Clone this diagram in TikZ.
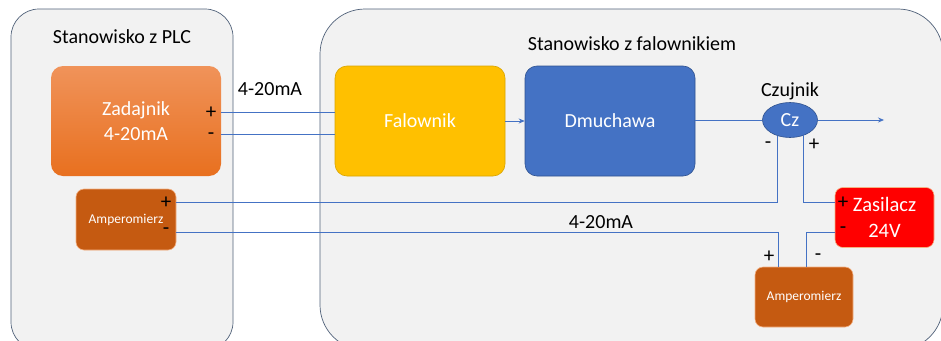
\documentclass[tikz,border=0pt]{standalone}
\usepackage{fontspec}
\setmainfont{Carlito}
\usetikzlibrary{shapes.geometric,arrows.meta}
\definecolor{panelfill}{HTML}{F2F2F2}
\definecolor{paneldraw}{HTML}{51627A}
\definecolor{wire}{HTML}{4472C4}
\definecolor{zadtop}{HTML}{F0935A}
\definecolor{zadbot}{HTML}{E8701F}
\definecolor{falfill}{HTML}{FFC000}
\definecolor{faldraw}{HTML}{D9A400}
\definecolor{dmufill}{HTML}{4472C4}
\definecolor{dmudraw}{HTML}{2F528F}
\definecolor{ampfill}{HTML}{C55A11}
\definecolor{ampdraw}{HTML}{F4B183}
\definecolor{zasfill}{HTML}{FF0000}
\tikzset{
  panel/.style={draw=paneldraw, fill=panelfill, line width=0.7pt},
  block/.style={rectangle, rounded corners=12pt, minimum width=170pt, minimum height=110pt, text=white, font=\fontsize{20}{25}\selectfont, align=center, inner sep=0pt},
  ampbox/.style={rectangle, rounded corners=8pt, fill=ampfill, draw=ampdraw, line width=0.6pt, text=white, font=\fontsize{13.5}{16}\selectfont, inner sep=0pt},
  wireline/.style={draw=wire, line width=0.8pt},
  wirearrow/.style={wireline, -{Stealth[length=6pt,width=5pt]}},
  lbl/.style={font=\fontsize{20}{24}\selectfont, text=black, inner sep=0pt},
  pm/.style={font=\fontsize{21}{24}\selectfont, text=black, inner sep=0pt},
}
\begin{document}
\begin{tikzpicture}[x=1pt,y=-1pt]
\clip (0,0) rectangle (941,340);
\fill[white] (0,0) rectangle (941,340);
% panels
\draw[panel, rounded corners=28pt] (11,9) rectangle (233,350);
\draw[panel, rounded corners=45pt] (320,9) rectangle (943,350);
\node[lbl] (t1) at (122,37) {Stanowisko z PLC};
\node[lbl] (t2) at (632,44) {Stanowisko z falownikiem};
% blocks
\node[block, top color=zadtop, bottom color=zadbot] (zad) at (136,121) {Zadajnik\\4-20mA};
\node[block, fill=falfill, draw=faldraw, line width=0.6pt] (fal) at (420,121) {Falownik};
\node[block, fill=dmufill, draw=dmudraw, line width=0.6pt] (dmu) at (610,121) {Dmuchawa};
\node[ellipse, fill=dmufill, draw=dmudraw, line width=0.6pt, minimum width=55pt, minimum height=35pt, inner sep=0pt, text=white, font=\fontsize{20}{24}\selectfont] (cz) at (790,120) {Cz};
\node[lbl] (czl) at (790,91) {Czujnik};
\node[ampbox, minimum width=100pt, minimum height=61pt] (ampL) at (126,219.5) {Amperomierz};
\node[ampbox, minimum width=98pt, minimum height=60pt] (ampR) at (804,297) {Amperomierz};
\node[rectangle, rounded corners=8pt, fill=zasfill, draw=ampdraw, line width=0.6pt, minimum width=99pt, minimum height=60pt, text=white, font=\fontsize{20.5}{26}\selectfont, align=center, inner sep=0pt] (zas) at (884.5,217.5) {Zasilacz\\24V};
% helper levels
\coordinate (yZp) at (0,112);
\coordinate (yZm) at (0,134);
\coordinate (yA) at (0,202);
\coordinate (yB) at (0,232);
\coordinate (out) at (884,120);
% wires
\draw[wireline] (zad.east |- yZp) -- (fal.west |- yZp);
\draw[wireline] (zad.east |- yZm) -- (fal.west |- yZm);
\draw[wirearrow] (fal) -- (dmu);
\draw[wireline] (dmu.east |- cz) -- (cz.west);
\draw[wirearrow] (cz.east) -- (out);
\draw[wireline] (cz.232.6) |- (ampL.east |- yA);
\draw[wireline] (cz.312.9) |- (zas.west |- yA);
\draw[wireline] (ampL.east |- yB) -| ([xshift=-26pt]ampR.north);
\draw[wireline] (zas.west |- yB) -| ([xshift=2pt]ampR.north);
% terminal labels
\node[pm] (zp) at (211,113) {+};
\node[pm] (zm) at (211,136) {-};
\node[pm] (ap) at (166,203) {+};
\node[pm] (am) at (166,231) {-};
\node[pm] (cm) at (768,145) {-};
\node[pm] (cp) at (814,145) {+};
\node[pm] (sp) at (843,203) {+};
\node[pm] (sm) at (843,230) {-};
\node[pm] (rp) at (769,257) {+};
\node[pm] (rm) at (818,257) {-};
% signal labels
\node[lbl] (s1) at (270,89) {4-20mA};
\node[lbl] (s2) at (601,222) {4-20mA};
\end{tikzpicture}
\end{document}
